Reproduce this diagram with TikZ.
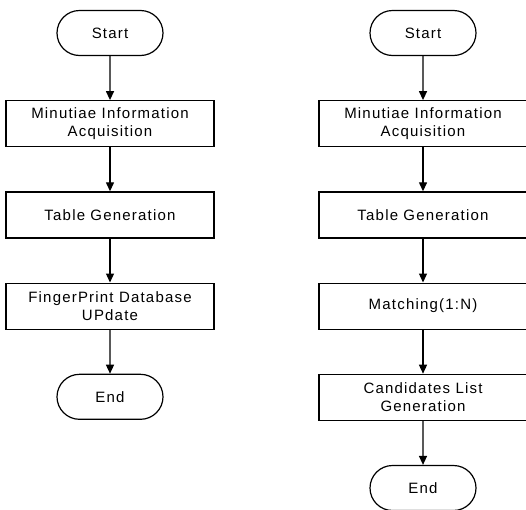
\documentclass[tikz,border=0pt]{standalone}
\usepackage{fontspec}
\setmainfont[LetterSpace=8]{Liberation Sans}
\usetikzlibrary{arrows.meta}
\usetikzlibrary{shapes.misc}
\usetikzlibrary{positioning}

\tikzset{
  flowline/.style={line width=1.3pt,-{Triangle[length=9pt,width=8pt]}},
  termbox/.style={rounded rectangle,draw,line width=1.2pt,minimum width=106pt,minimum height=45pt,inner sep=0pt},
  procbox/.style={rectangle,draw,line width=1.2pt,minimum width=208pt,minimum height=46pt,inner sep=0pt,align=center}
}

\begin{document}
\begin{tikzpicture}[x=1pt,y=-1pt,node distance=44pt,font=\fontsize{15}{18.5}\selectfont]
                    \useasboundingbox (0,0) rectangle (526,509);
                    \node[termbox] (lstart) at (110,33) {Start};
                    \node[procbox,below=of lstart] (lacq) {Minutiae Information\\Acquisition};
                    \node[procbox,below=of lacq] (ltable) {Table Generation};
                    \node[procbox,below=of ltable] (lupdate) {FingerPrint Database\\UPdate};
                    \node[termbox,below=of lupdate] (lend) {End};
                    \draw[flowline] (lstart) -- (lacq);
                    \draw[flowline] (lacq) -- (ltable);
                    \draw[flowline] (ltable) -- (lupdate);
                    \draw[flowline] (lupdate) -- (lend);
                    \node[termbox] (rstart) at (423,33) {Start};
                    \node[procbox,below=of rstart] (racq) {Minutiae Information\\Acquisition};
                    \node[procbox,below=of racq] (rtable) {Table Generation};
                    \node[procbox,below=of rtable] (rmatch) {Matching(1:N)};
                    \node[procbox,below=of rmatch] (rcand) {Candidates List\\Generation};
                    \node[termbox,below=of rcand] (rend) {End};
                    \draw[flowline] (rstart) -- (racq);
                    \draw[flowline] (racq) -- (rtable);
                    \draw[flowline] (rtable) -- (rmatch);
                    \draw[flowline] (rmatch) -- (rcand);
                    \draw[flowline] (rcand) -- (rend);
\end{tikzpicture}
\end{document}
